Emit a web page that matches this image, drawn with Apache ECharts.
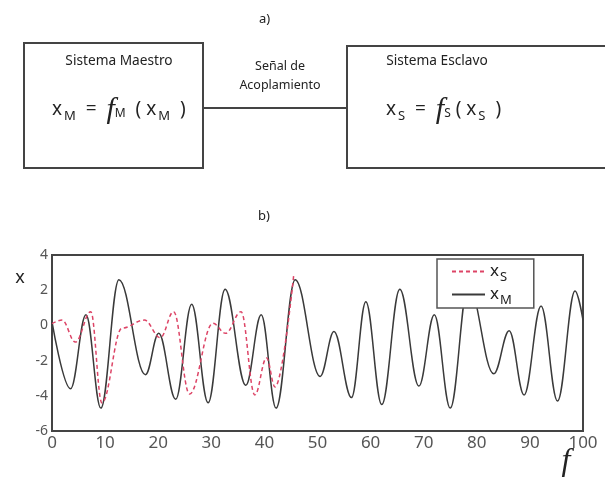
<!DOCTYPE html>
<html>
<head>
<meta charset="utf-8">
<script src="https://cdn.jsdelivr.net/npm/echarts@6/dist/echarts.min.js"></script>
<style>
  html, body { margin: 0; padding: 0; background: #fff; }
  #chart { width: 605px; height: 477px; }
</style>
</head>
<body>
<div id="chart"></div>
<script>
// x_M (maestro) - read at turning points off the picture
var tM = [0, 3.5, 6.4, 9.2, 12.6, 17.6, 20.1, 23.3, 26.3, 29.4, 32.6, 36.5, 39.4, 42.2, 45.8,
          50.5, 53.1, 56.4, 59.1, 62.1, 65.5, 69.1, 72.0, 75.0, 78.4, 83.2, 86.1, 88.9, 92.1, 95.2, 98.5, 100];
var xM = [0.2, -3.6, 0.6, -4.7, 2.6, -2.8, -0.45, -4.2, 1.2, -4.4, 2.05, -3.4, 0.6, -4.7, 2.6,
          -2.9, -0.35, -4.1, 1.35, -4.5, 2.05, -3.45, 0.6, -4.7, 2.3, -2.75, -0.3, -3.95, 1.1, -4.3, 1.95, 0.3];

// x_S (esclavo) - only visible until it locks onto x_M
var tS = [0, 1.9, 4.4, 7.3, 9.4, 13.2, 17.4, 20.4, 22.9, 25.9, 30.3, 32.7, 35.6, 38.2, 40.4, 42.0, 45.5];
var xS = [0.1, 0.3, -0.95, 0.78, -4.4, -0.15, 0.3, -0.7, 0.78, -3.9, 0.12, -0.45, 0.78, -3.95, -1.85, -3.5, 2.8];

var xTicks = { min: 0, max: 100, step: 10 };
var yTicks = { min: -6, max: 4, step: 2 };

var seriesNames = ['xS', 'xM'];

function pairs(t, v) {
    var out = [];
    for (var i = 0; i < t.length; i++) out.push([t[i], v[i]]);
    return out;
}

var font = 'Noto Sans';
var dark = '#444';

var subRich = {
    x: { fontSize: 17, fontFamily: font, color: '#222' },
    s: { fontSize: 13, fontFamily: font, color: '#222', padding: [12, 0, 0, 1] }
};

var formulaRich = {
    x: { fontSize: 19, fontFamily: font, fill: '#222' },
    s: { fontSize: 13, fontFamily: font, fill: '#222', padding: [12, 0, 0, 2] },
    t: { fontSize: 12, fontFamily: font, fill: '#222', padding: [8, 0, 0, 0] },
    f: { fontSize: 30, fontFamily: 'Liberation Serif', fontStyle: 'italic', fill: '#222' }
};

var myChart = echarts.init(document.getElementById('chart'), null, { renderer: 'canvas' });
var option = {
    animation: false,
    backgroundColor: '#fff',
    grid: {
        left: 52, top: 255, right: 22, bottom: 46,
        show: true, borderColor: dark, borderWidth: 2
    },
    legend: {
        orient: 'vertical',
        left: 437, top: 259,
        width: 95,
        padding: [4, 22, 1, 14],
        itemGap: 2,
        itemWidth: 33,
        itemHeight: 14,
        backgroundColor: '#fff',
        borderColor: '#555',
        borderWidth: 1.5,
        borderRadius: 0,
        itemStyle: { opacity: 0 },
        data: seriesNames,
        formatter: function (name) {
            return '{x|x}{s|' + name.charAt(1) + '}';
        },
        textStyle: { rich: subRich }
    },
    xAxis: {
        type: 'value',
        min: xTicks.min, max: xTicks.max, interval: xTicks.step,
        axisLine: { onZero: false, lineStyle: { color: dark, width: 2 } },
        axisTick: { show: false },
        splitLine: { show: false },
        axisLabel: { color: '#555', fontSize: 17, fontFamily: font, margin: 4 }
    },
    yAxis: {
        type: 'value',
        min: yTicks.min, max: yTicks.max, interval: yTicks.step,
        axisLine: { show: true, onZero: false, lineStyle: { color: dark, width: 2 } },
        axisTick: { show: false },
        splitLine: { show: false },
        axisLabel: { color: '#555', fontSize: 14, fontFamily: font, margin: 4 }
    },
    series: [
        {
            name: 'xM',
            type: 'line',
            data: pairs(tM, xM),
            smooth: 0.38,
            smoothMonotone: 'x',
            symbol: 'none',
            lineStyle: { color: '#3a3a3a', width: 1.5 },
            itemStyle: { color: '#3a3a3a' },
            z: 2
        },
        {
            name: 'xS',
            type: 'line',
            data: pairs(tS, xS),
            smooth: 0.38,
            smoothMonotone: 'x',
            symbol: 'none',
            lineStyle: { color: '#dd4466', width: 1.5, type: [4, 3] },
            itemStyle: { color: '#dd4466' },
            z: 3
        }
    ],
    graphic: [
        // part a) block diagram
        { type: 'text', left: 259, top: 13, style: { text: 'a)', font: '13px "Noto Sans"', fill: '#222' } },
        { type: 'rect', shape: { x: 24, y: 43, width: 179, height: 125 },
          style: { fill: 'none', stroke: dark, lineWidth: 2 } },
        { type: 'rect', shape: { x: 347, y: 46, width: 300, height: 122 },
          style: { fill: 'none', stroke: dark, lineWidth: 2 } },
        { type: 'line', shape: { x1: 203, y1: 108, x2: 347, y2: 108 },
          style: { stroke: dark, lineWidth: 2 } },
        { type: 'text', x: 119, y: 61,
          style: { text: 'Sistema Maestro', font: '13.7px "Noto Sans"', fill: '#222', align: 'center', verticalAlign: 'middle' } },
        { type: 'text', x: 437, y: 61,
          style: { text: 'Sistema Esclavo', font: '13.7px "Noto Sans"', fill: '#222', align: 'center', verticalAlign: 'middle' } },
        { type: 'text', x: 280, y: 76,
          style: { text: 'Señal de\nAcoplamiento', font: '12.5px "Noto Sans"', lineHeight: 19, fill: '#222', align: 'center', verticalAlign: 'middle' } },
        { type: 'text', x: 52, y: 110,
          style: {
              text: '{x|x}{s|M}{x|  =  }{f|f}{t|M}{x|  ( x}{s|M}{x|  )}',
              verticalAlign: 'middle',
              rich: formulaRich
          } },
        { type: 'text', x: 386, y: 110,
          style: {
              text: '{x|x}{s|S}{x|  =  }{f|f}{t|S}{x| ( x}{s|S}{x|  )}',
              verticalAlign: 'middle',
              rich: formulaRich
          } },
        // part b) labels
        { type: 'text', left: 258, top: 210, style: { text: 'b)', font: '13px "Noto Sans"', fill: '#222' } },
        { type: 'text', x: 20, y: 278,
          style: { text: 'x', font: '18px "Noto Sans"', fill: '#222', align: 'center', verticalAlign: 'middle' } },
        { type: 'text', x: 566, y: 462,
          style: { text: 'f', font: 'italic 32px "Liberation Serif"', fill: '#222', align: 'center', verticalAlign: 'middle' } }
    ]
};
myChart.setOption(option);
</script>
</body>
</html>
